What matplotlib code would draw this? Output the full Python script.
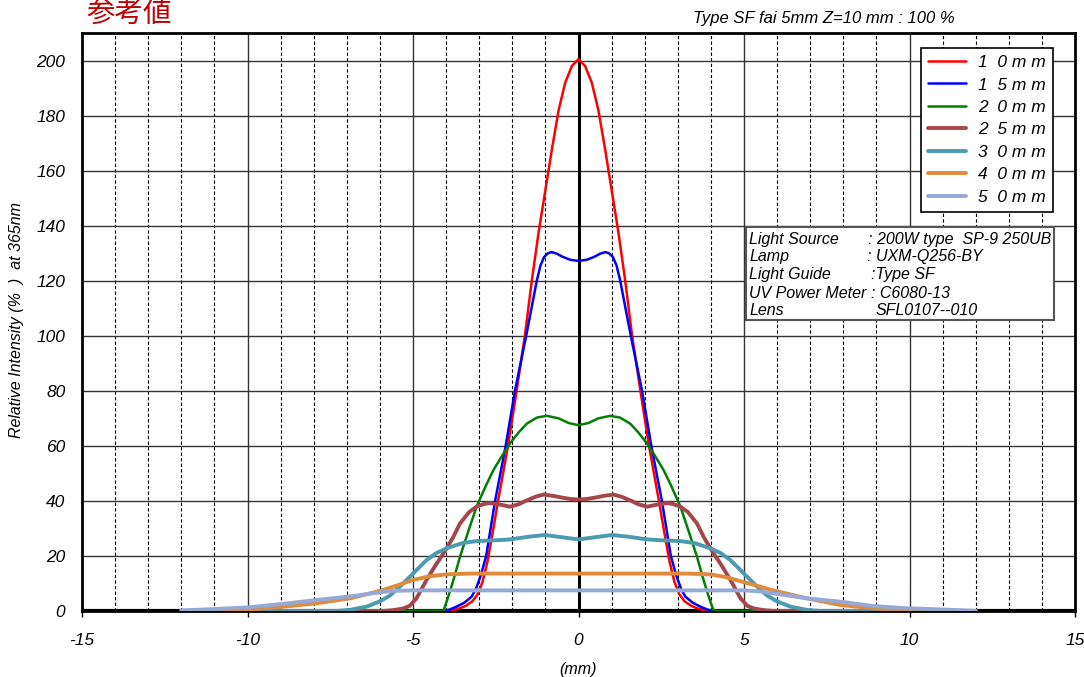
import matplotlib
matplotlib.use("Agg")
import matplotlib.pyplot as plt
from matplotlib.patches import Rectangle

plt.rcParams['font.family'] = ['Liberation Sans', 'Noto Sans CJK JP', 'DejaVu Sans']
plt.rcParams['axes.unicode_minus'] = False

W, H = 1084, 677

# distance (mm) / relative intensity (%), per lens distance
x10 = [-12, -4.0, -3.8, -3.6, -3.4, -3.2, -3.05, -2.9, -2.75, -2.6, -2.43, -2.13, -1.87, -1.62,
       -1.4, -1.2, -1.0, -0.8, -0.6, -0.4, -0.2, 0, 0.2, 0.4, 0.6, 0.8, 1.0, 1.2, 1.4, 1.62,
       1.87, 2.13, 2.43, 2.6, 2.75, 2.9, 3.05, 3.2, 3.4, 3.6, 3.8, 4.0, 12]
y10 = [0, 0, 0.3, 0.9, 1.9, 3.6, 6, 10.5, 18, 28, 40, 60, 80, 100,
       121, 138, 153, 168, 182, 192, 198, 200.5, 198, 192, 182, 168, 153, 138, 121, 100,
       80, 60, 40, 28, 18, 10.5, 6, 3.6, 1.9, 0.9, 0.3, 0, 0]

x15 = [-12, -4.1, -3.9, -3.68, -3.45, -3.23, -3.1, -2.95, -2.79, -2.52, -2.2, -1.92, -1.58,
       -1.26, -1.15, -1.04, -0.92, -0.81, -0.65, -0.5, -0.25, 0, 0.25, 0.5, 0.65, 0.81, 0.92,
       1.04, 1.15, 1.26, 1.58, 1.92, 2.2, 2.52, 2.79, 2.95, 3.1, 3.23, 3.45, 3.68, 3.9, 4.1, 12]
y15 = [0, 0, 0.5, 1.6, 3, 5.2, 8, 13, 20, 40, 60, 80, 100,
       120, 125.5, 128.6, 130, 130.4, 129.8, 128.8, 127.6, 127.2, 127.6, 128.8, 129.8, 130.4, 130,
       128.6, 125.5, 120, 100, 80, 60, 40, 20, 13, 8, 5.2, 3, 1.6, 0.5, 0, 0]

x20 = [-12, -4.08, -3.9, -3.78, -3.58, -3.3, -3.08, -2.8, -2.57, -2.3, -2.07, -1.8, -1.56, -1.25,
       -0.96, -0.6, -0.3, 0, 0.3, 0.6, 0.96, 1.25, 1.56, 1.8, 2.07, 2.3, 2.57, 2.8, 3.08, 3.3,
       3.58, 3.78, 3.9, 4.08, 12]
y20 = [0, 0, 6.5, 11.2, 19.7, 30, 37.9, 45.5, 51.2, 56.6, 60.9, 65, 68.1, 70.3,
       70.9, 70, 68.3, 67.5, 68.3, 70, 70.9, 70.3, 68.1, 65, 60.9, 56.6, 51.2, 45.5, 37.9, 30,
       19.7, 11.2, 6.5, 0, 0]

x25 = [-12, -5.9, -5.6, -5.3, -5.1, -4.9, -4.59, -4.3, -4.08, -3.8, -3.58, -3.3, -3.08, -2.85,
       -2.67, -2.35, -2.07, -1.8, -1.6, -1.3, -1.06, -0.75, -0.5, -0.25, 0, 0.25, 0.5, 0.75,
       1.06, 1.3, 1.6, 1.8, 2.07, 2.35, 2.67, 2.85, 3.08, 3.3, 3.58, 3.8, 4.08, 4.3, 4.59,
       4.9, 5.1, 5.3, 5.6, 5.9, 12]
y25 = [0, 0, 0.3, 0.9, 1.9, 4.5, 11.3, 17, 20.9, 26.5, 31.8, 36, 37.9, 38.9,
       39.2, 38.6, 37.9, 38.8, 40, 41.5, 42.3, 41.8, 41.2, 40.7, 40.5, 40.7, 41.2, 41.8,
       42.3, 41.5, 40, 38.8, 37.9, 38.6, 39.2, 38.9, 37.9, 36, 31.8, 26.5, 20.9, 17, 11.3,
       4.5, 1.9, 0.9, 0.3, 0, 0]

x30 = [-12, -7.3, -6.9, -6.4, -6.0, -5.7, -5.4, -5.09, -4.8, -4.59, -4.3, -3.98, -3.5, -3.08,
       -2.5, -2.07, -1.5, -1.01, -0.5, 0, 0.5, 1.01, 1.5, 2.07, 2.5, 3.08, 3.5, 3.98, 4.3, 4.59,
       4.8, 5.09, 5.4, 5.7, 6.0, 6.4, 6.9, 7.3, 12]
y30 = [0, 0, 0.4, 1.6, 3.5, 5.6, 8.8, 12.5, 16, 18.5, 21, 22.8, 24.7, 25.4,
       25.7, 26, 27, 27.6, 26.8, 26, 26.8, 27.6, 27, 26, 25.7, 25.4, 24.7, 22.8, 21, 18.5,
       16, 12.5, 8.8, 5.6, 3.5, 1.6, 0.4, 0, 0]

x40 = [-12, -10.6, -10.0, -8.9, -7.9, -6.9, -6.0, -5.4, -5.0, -4.5, -4.0, -3.3, 0,
       3.3, 4.0, 4.5, 4.9, 5.5, 5.9, 6.9, 7.9, 8.9, 9.9, 10.5, 12]
y40 = [0, 0, 0.4, 1.6, 2.8, 4.6, 7.3, 9.6, 11.3, 12.6, 13.3, 13.6, 13.6,
       13.6, 13.3, 12.2, 10.8, 8.8, 7.4, 4.6, 2.2, 1.0, 0.2, 0, 0]

x50 = [-12, -11, -10, -9, -7.9, -6.9, -6.2, -5.6, -5.0, 0, 5.0, 5.5, 5.9, 6.9, 7.9, 8.9, 9.9,
       10.9, 11.9, 12]
y50 = [0.2, 0.7, 1.3, 2.5, 4.0, 5.3, 6.5, 7.3, 7.5, 7.5, 7.5, 7.1, 6.4, 4.6, 3.4, 1.8, 1.0,
       0.6, 0.1, 0]

labels = ['1  0 m m', '1  5 m m', '2  0 m m', '2  5 m m', '3  0 m m', '4  0 m m', '5  0 m m']
colors = ['#FF0000', '#0000FF', '#008000', '#A5474A', '#4A9BB0', '#E08A3C', '#94A9D6']
widths = [1.8, 1.8, 1.8, 2.8, 2.8, 2.8, 2.8]

info_left = ['Light Source', 'Lamp', 'Light Guide', 'UV Power Meter : C6080-13', 'Lens']
info_right = [': 200W type  SP-9 250UB', ': UXM-Q256-BY', ':Type SF', '', 'SFL0107--010']
info_right_x = [868, 867, 871, 0, 876]

fig = plt.figure(figsize=(W / 100, H / 100), dpi=100)
ax = fig.add_axes([82 / W, 1 - 611 / H, (1075 - 82) / W, (611 - 33) / H])

series = [(x10, y10), (x15, y15), (x20, y20), (x25, y25), (x30, y30), (x40, y40), (x50, y50)]
for (xs, ys), lab, c, lw in zip(series, labels, colors, widths):
    ax.plot(xs, ys, color=c, lw=lw, label=lab, zorder=3,
            solid_joinstyle='round', solid_capstyle='round')

ax.set_xlim(-15, 15)
ax.set_ylim(0, 210)
ax.set_xticks(range(-15, 16, 5))
ax.set_yticks(range(0, 201, 20))

# grid
for xv in range(-14, 15):
    if xv % 5 != 0:
        ax.axvline(xv, color='black', lw=0.8, ls=(0, (3, 2)), zorder=1)
    elif xv != 0:
        ax.axvline(xv, color='#333333', lw=1.0, zorder=1)
for yv in range(20, 201, 20):
    ax.axhline(yv, color='#333333', lw=1.0, zorder=1)
ax.axvline(0, color='black', lw=2.2, zorder=2)
ax.axhline(0, color='black', lw=3.0, zorder=2)

for s in ax.spines.values():
    s.set_linewidth(2.0)

ax.tick_params(axis='x', direction='out', length=4, width=1, pad=12, labelsize=12.5)
ax.tick_params(axis='y', length=0, pad=12, labelsize=12.5)
for t in ax.get_xticklabels() + ax.get_yticklabels():
    t.set_fontstyle('italic')

ax.set_xlabel('(mm)', fontsize=11.5, style='italic', labelpad=10)
fig.text(17 / W, 1 - 320 / H, 'Relative Intensity (%  )  at 365nm', fontsize=11.5,
         style='italic', rotation=90, ha='center', va='center')

leg = ax.legend(loc='upper right', bbox_to_anchor=(1053 / W, 1 - 48 / H),
                bbox_transform=fig.transFigure, borderaxespad=0, fancybox=False,
                framealpha=1, edgecolor='black', handlelength=2.2, handletextpad=0.7,
                labelspacing=0.42, borderpad=0.4, prop={'style': 'italic', 'size': 12.5})
leg.get_frame().set_linewidth(1.2)
leg.set_zorder(5)

# info box
fig.patches.append(Rectangle((746 / W, 1 - 320 / H), (1054 - 746) / W, (320 - 227) / H,
                             transform=fig.transFigure, facecolor='white',
                             edgecolor='#555555', lw=1.5, zorder=5))
for i in range(5):
    yy = 1 - (239 + i * 18) / H
    fig.text(749 / W, yy, info_left[i], fontsize=11.5, style='italic', va='center', zorder=6)
    if info_right[i]:
        fig.text(info_right_x[i] / W, yy, info_right[i], fontsize=11.5, style='italic',
                 va='center', zorder=6)

fig.text(86 / W, 1 - 14 / H, '参考値', fontsize=20.5, color='#C00000', va='center',
         family=['Noto Sans CJK JP'])
fig.text(693 / W, 1 - 19 / H, 'Type SF fai 5mm Z=10 mm : 100 %', fontsize=12,
         style='italic', va='center')

fig.savefig('out.png', dpi=100)
